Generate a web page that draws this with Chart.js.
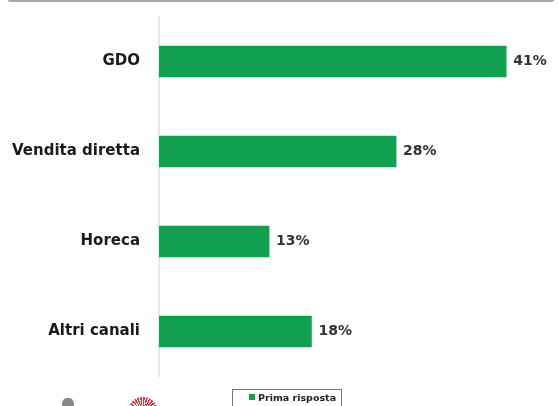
<!DOCTYPE html>
<html>
<head>
<meta charset="utf-8">
<script src="https://cdn.jsdelivr.net/npm/chart.js@4"></script>
<style>
  html, body { margin: 0; padding: 0; background: #fff; }
  #wrap { position: relative; width: 558px; height: 406px; overflow: hidden; }
  #frame { position: absolute; left: 7px; top: -20px; width: 544px; height: 20px;
           border: 2px solid #a8a8a8; border-top: none; border-radius: 0 0 4px 4px; }
  #legend { position: absolute; left: 232px; top: 389px; width: 110px; height: 24px;
            border: 1px solid #777; box-sizing: border-box;
            font: bold 9.5px "DejaVu Sans", sans-serif; color: #222; padding: 2px 0 0 16px; }
  #legend span { display: inline-block; width: 6px; height: 6px; margin-right: 3px; vertical-align: 1px; }
  #logo1 { position: absolute; left: 62px; top: 398px; width: 12px; height: 14px;
           background: #555; border-radius: 40% 40% 0 0; opacity: 0.7; }
  #logo2 { position: absolute; left: 128px; top: 397px; width: 30px; height: 30px; border-radius: 50%;
           background: repeating-conic-gradient(#e0303a 0deg 7deg, #fff 7deg 12deg); }
</style>
</head>
<body>
<div id="wrap">
  <canvas id="canvas" width="558" height="406"></canvas>
  <div id="frame"></div>
  <div id="logo1"></div>
  <div id="logo2"></div>
  <div id="legend"></div>
</div>
<script>
// Dati
const categories = ['GDO', 'Vendita diretta', 'Horeca', 'Altri canali'];
const values = [41, 28, 13, 18];
const seriesName = 'Prima risposta';
const barColor = '#11a04f';

// Etichette dei valori a fine barra
const valueLabels = {
    id: 'valueLabels',
    afterDatasetsDraw(chart) {
        const ctx = chart.ctx;
        const meta = chart.getDatasetMeta(0);
        ctx.save();
        ctx.font = 'bold 14px "DejaVu Sans", sans-serif';
        ctx.fillStyle = '#333';
        ctx.textBaseline = 'middle';
        meta.data.forEach((bar, i) => {
            ctx.fillText(values[i] + '%', bar.x + 7, bar.y);
        });
        ctx.restore();
    }
};

const config = {
    type: 'bar',
    data: {
        labels: categories,
        datasets: [{
            label: seriesName,
            data: values,
            backgroundColor: barColor,
            barThickness: 31
        }]
    },
    options: {
        indexAxis: 'y',
        responsive: false,
        animation: false,
        layout: { padding: { top: 16.5, bottom: 29.5, left: 0, right: 1 } },
        plugins: {
            legend: { display: false },
            tooltip: { enabled: false }
        },
        scales: {
            x: { display: false, min: 0, max: 47 },
            y: {
                afterFit(scale) {
                    scale.width = 159;
                    scale.paddingTop = 0;
                    scale.paddingBottom = 0;
                },
                grid: { display: false, drawTicks: false },
                border: { display: true, color: '#e8e8e8', width: 2 },
                ticks: {
                    color: '#1a1a1a',
                    padding: 19,
                    font: { family: '"DejaVu Sans", sans-serif', weight: 'bold', size: 15 }
                }
            }
        }
    },
    plugins: [valueLabels]
};

function init() {
    new Chart('canvas', config);
    document.getElementById('legend').innerHTML =
        '<span style="background:' + barColor + '"></span>' + seriesName;
}

init();
</script>
</body>
</html>
